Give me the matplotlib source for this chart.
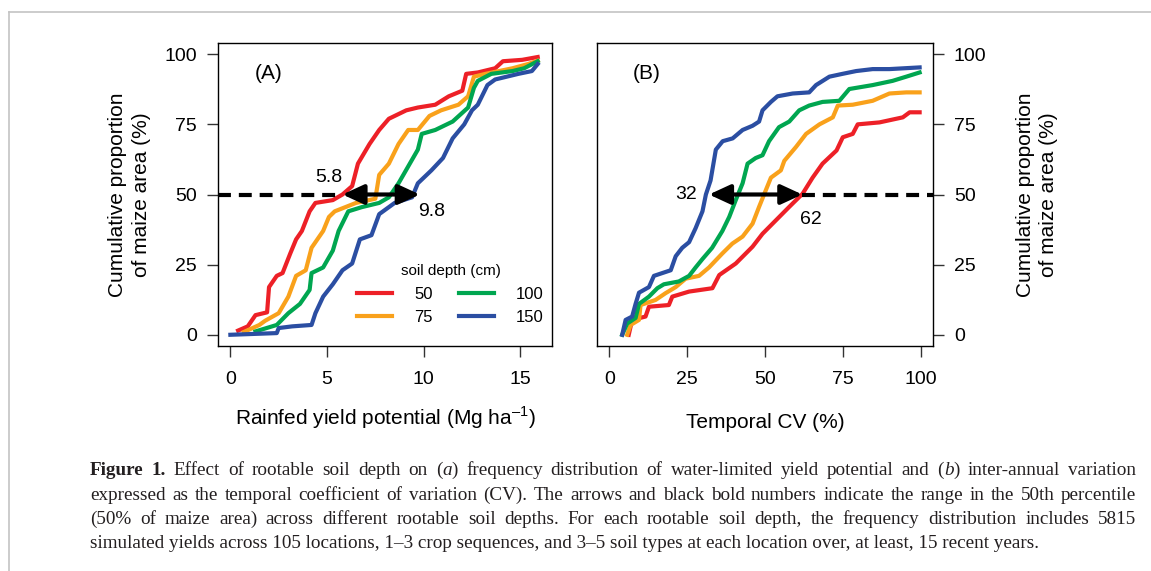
import numpy as np
import matplotlib
matplotlib.use('Agg')
import matplotlib.pyplot as plt
from matplotlib.lines import Line2D

plt.rcParams['font.family'] = ['Liberation Sans', 'DejaVu Sans']
plt.rcParams['mathtext.fontset'] = 'custom'
plt.rcParams['mathtext.rm'] = 'Liberation Sans'

# soil depths and colours
depths = ['50', '75', '100', '150']
colors = ['#ED2027', '#F9A11B', '#00A650', '#2B4EA2']

# (A) cumulative distribution of rainfed yield potential (Mg/ha vs %)
ya_x_50 = [0.4, 0.9, 1.3, 1.9, 2.0, 2.4, 2.7, 3.1, 3.4, 3.7, 4.1, 4.4, 5.3, 5.8, 6.3, 6.6,
           7.2, 7.7, 8.2, 9.1, 9.7, 10.6, 11.3, 12.0, 12.2, 12.8, 13.7, 14.1, 15.1, 15.9]
ya_y_50 = [1.5, 3, 7, 8, 17, 21, 22, 29, 34, 37, 44, 47, 48, 50, 53, 61,
           68, 73, 77, 80, 81, 82, 85, 87, 93, 93.5, 95, 97.5, 98, 99]
ya_x_75 = [0.7, 1.5, 1.8, 2.5, 3.0, 3.4, 3.9, 4.2, 4.8, 5.1, 5.4, 6.5, 7.5, 7.7, 8.2, 8.7,
           9.2, 9.7, 10.3, 10.9, 11.8, 12.3, 12.6, 13.2, 14.6, 15.4, 15.9]
ya_y_75 = [1, 3.5, 5, 7.7, 13.6, 21, 23, 31, 37, 42, 44, 47, 48.5, 57, 61, 68,
           73, 73, 78, 80, 82, 85, 92, 93, 95, 96.5, 97.7]
ya_x_100 = [1.3, 2.4, 3.0, 3.6, 4.1, 4.2, 4.8, 5.3, 5.6, 6.1, 6.8, 7.7, 8.2, 8.7, 9.2, 9.7,
            9.9, 10.6, 11.5, 12.3, 12.6, 12.8, 13.5, 14.6, 15.2, 15.9]
ya_y_100 = [1.2, 3.5, 7.7, 11, 16, 22, 24, 30, 37, 44, 45.5, 47, 49, 54, 60, 66,
            71.6, 73, 76, 81, 88, 90.5, 93, 94, 95, 97.5]
ya_x_150 = [0.0, 2.4, 2.5, 3.2, 4.2, 4.4, 4.8, 5.3, 5.8, 6.3, 6.7, 7.3, 7.7, 8.5, 9.4, 9.7,
            10.4, 11.0, 11.5, 12.1, 12.5, 12.8, 13.3, 13.7, 14.9, 15.6, 15.9]
ya_y_150 = [0, 0.6, 2.4, 3, 3.5, 7.7, 13.6, 18, 23, 25.4, 34, 35.5, 43, 47, 49, 54,
            58.6, 63, 70, 75, 80, 82, 89, 91, 93, 94, 96.5]

# (B) cumulative distribution of temporal CV (% vs %)
cv_x_50 = [6.2, 7.3, 11.6, 12.7, 19.1, 20.2, 25.6, 33.1, 35.3, 40.6, 46.0, 49.2, 53.5, 57.8,
           62.1, 65.3, 68.5, 73.0, 75.0, 78.2, 79.8, 86.8, 94.3, 96.5, 99.7]
cv_y_50 = [0, 5.3, 6.5, 10, 10.6, 13.6, 15.4, 16.6, 21.3, 25.4, 31.4, 36, 40.8, 45.6,
           50.3, 56, 61, 65.7, 70.4, 71.6, 75, 75.7, 77.5, 79.3, 79.3]
cv_x_75 = [5.7, 6.8, 9.5, 10.0, 14.8, 18.0, 21.3, 24.5, 28.8, 32.0, 36.3, 39.5, 42.8, 46.0,
           48.1, 49.7, 51.9, 55.1, 56.2, 60.0, 63.2, 67.5, 71.8, 73.4, 78.2, 84.6, 90.0, 95.4, 99.7]
cv_y_75 = [0, 3.5, 5.3, 10.6, 12.4, 14.8, 17, 20, 21, 24, 29, 32.5, 35, 39.6,
           45.6, 50, 56, 58.6, 62, 67, 71.6, 75, 77.5, 81.7, 82, 83.4, 86, 86.4, 86.4]
cv_x_100 = [4.1, 5.7, 8.4, 9.5, 12.7, 15.4, 17.5, 22.3, 25.6, 27.7, 29.9, 33.0, 36.3, 38.5,
            40.6, 42.8, 44.4, 47.0, 49.2, 51.3, 54.5, 57.8, 61.0, 64.2, 68.5, 73.9, 77.1,
            84.6, 91.0, 95.4, 99.7]
cv_y_100 = [0, 4, 6, 11, 13.6, 16.6, 18, 19, 21, 24, 27, 31, 37, 42,
            48, 54, 61, 63, 64, 69, 74, 76, 80, 81.7, 83, 83.4, 87.6,
            89, 90.5, 92, 93.5]
cv_x_150 = [4.1, 5.2, 7.3, 8.4, 9.5, 12.7, 14.3, 17.0, 19.7, 21.3, 23.4, 25.6, 27.7, 29.9,
            31.0, 32.5, 34.2, 36.4, 39.6, 42.8, 46.0, 48.1, 49.2, 51.9, 54.0, 58.9, 64.2,
            66.4, 70.7, 74.9, 79.3, 84.6, 90.0, 99.7]
cv_y_150 = [0, 5.3, 6.5, 11, 15, 17, 21, 22, 23, 28, 31, 33, 38, 44,
            50, 55, 66, 69, 70, 73, 74.5, 76, 80, 83, 85, 86, 86.4,
            89, 92, 93, 94, 94.7, 94.7, 95.3]

# 50th percentile ranges
yield_range = [5.8, 9.8]
cv_range = [32, 62]

yield_x = [ya_x_50, ya_x_75, ya_x_100, ya_x_150]
yield_y = [ya_y_50, ya_y_75, ya_y_100, ya_y_150]
cv_x = [cv_x_50, cv_x_75, cv_x_100, cv_x_150]
cv_y = [cv_y_50, cv_y_75, cv_y_100, cv_y_150]

W, H = 1151, 571
fig = plt.figure(figsize=(W / 100, H / 100), dpi=100)

def px_rect(x0, y0, x1, y1):
    return [x0 / W, 1 - y1 / H, (x1 - x0) / W, (y1 - y0) / H]

ax1 = fig.add_axes(px_rect(218, 43, 552, 346))
ax2 = fig.add_axes(px_rect(597, 43, 933, 346))

for ax in (ax1, ax2):
    for s in ax.spines.values():
        s.set_linewidth(1.0)
    ax.tick_params(length=8, width=1.0, color='#333333', labelsize=14)
    ax.set_ylim(-4, 104)
    ax.set_yticks([0, 25, 50, 75, 100])

# panel A
for xs, ys, c, d in zip(yield_x, yield_y, colors, depths):
    ax1.plot(xs, ys, color=c, lw=3, label=d, solid_joinstyle='round')
ax1.set_xlim(-0.64, 16.64)
ax1.set_xticks([0, 5, 10, 15])
ax1.tick_params(axis='x', pad=10)
ax1.tick_params(axis='y', pad=7)
ax1.plot([-0.64, yield_range[0]], [50, 50], color='k', lw=3, dashes=(3.1, 1.9))
ax1.annotate('', xy=(yield_range[0], 50), xytext=(yield_range[1], 50),
             arrowprops=dict(arrowstyle='<|-|>,head_length=1.3,head_width=0.6',
                             lw=3, color='k', mutation_scale=10, shrinkA=0, shrinkB=0))
ax1.text(5.1, 56, '5.8', fontsize=14, ha='center', va='center')
ax1.text(10.4, 44, '9.8', fontsize=14, ha='center', va='center')
ax1.text(2.0, 93, '(A)', fontsize=15, ha='center', va='center')
ax1.set_xlabel('Rainfed yield potential (Mg ha$^{\\mathrm{–1}}$)', fontsize=15, labelpad=12)
ax1.set_ylabel('Cumulative proportion\nof maize area (%)', fontsize=15, labelpad=10,
               linespacing=1.3)
leg = ax1.legend(ncol=2, loc='lower right', bbox_to_anchor=(1.02, 0.02), frameon=False,
                 title='soil depth (cm)', fontsize=12, title_fontsize=11,
                 handlelength=2.1, columnspacing=1.6, handletextpad=1.3, labelspacing=0.5)

# panel B
for xs, ys, c, d in zip(cv_x, cv_y, colors, depths):
    ax2.plot(xs, ys, color=c, lw=3, solid_joinstyle='round')
ax2.set_xlim(-4, 104)
ax2.set_xticks([0, 25, 50, 75, 100])
ax2.tick_params(axis='x', pad=10)
ax2.yaxis.tick_right()
ax2.yaxis.set_label_position('right')
ax2.tick_params(axis='y', pad=7)
ax2.plot([cv_range[1], 104], [50, 50], color='k', lw=3, dashes=(3.1, 1.9))
ax2.annotate('', xy=(cv_range[0], 50), xytext=(cv_range[1], 50),
             arrowprops=dict(arrowstyle='<|-|>,head_length=1.3,head_width=0.6',
                             lw=3, color='k', mutation_scale=10, shrinkA=0, shrinkB=0))
ax2.text(24.5, 50, '32', fontsize=14, ha='center', va='center')
ax2.text(64.8, 41, '62', fontsize=14, ha='center', va='center')
ax2.text(12.1, 93, '(B)', fontsize=15, ha='center', va='center')
ax2.set_xlabel('Temporal CV (%)', fontsize=15, labelpad=18)
ax2.set_ylabel('Cumulative proportion\nof maize area (%)', fontsize=15, labelpad=21,
               rotation=90, linespacing=1.3)

# page frame (left and top edges)
fig.add_artist(Line2D([9 / W, 9 / W], [0, 1 - 12 / H], color='#c4c4c4', lw=1.2))
fig.add_artist(Line2D([9 / W, 1], [1 - 12 / H, 1 - 12 / H], color='#c4c4c4', lw=1.2))

# caption, first three lines justified
caption_lines = [
    [[('Figure', 'bold', 'normal')], [('1.', 'bold', 'normal')], 'Effect', 'of', 'rootable',
     'soil', 'depth', 'on', [('(', 'normal', 'normal'), ('a', 'normal', 'italic'), (')', 'normal', 'normal')],
     'frequency', 'distribution', 'of', 'water-limited', 'yield', 'potential', 'and',
     [('(', 'normal', 'normal'), ('b', 'normal', 'italic'), (')', 'normal', 'normal')],
     'inter-annual', 'variation'],
    'expressed as the temporal coefficient of variation (CV). The arrows and black bold numbers '
    'indicate the range in the 50th percentile'.split(),
    '(50% of maize area) across different rootable soil depths. For each rootable soil depth, '
    'the frequency distribution includes 5815'.split(),
]
caption_last = ('simulated yields across 105 locations, 1–3 crop sequences, and 3–5 soil types '
                'at each location over, at least, 15 recent years.')
baselines = [475, 499.5, 524, 548.5]
cap_left, cap_right = 90, 1136
cap_kw = dict(family='Liberation Serif', fontsize=13.8, color='#231f20', va='baseline')

renderer = fig.canvas.get_renderer()

def make_runs(word):
    if isinstance(word, str):
        return [(word, 'normal', 'normal')]
    return word

def run_width(s, weight, style):
    t = fig.text(0, 0, s, fontweight=weight, fontstyle=style, **cap_kw)
    w = t.get_window_extent(renderer).width
    t.remove()
    return w

for line, base in zip(caption_lines, baselines):
    words = [make_runs(w) for w in line]
    widths = [[run_width(*r) for r in w] for w in words]
    total = sum(sum(w) for w in widths)
    gap = (cap_right - cap_left - total) / (len(words) - 1)
    x = cap_left
    for runs, ws in zip(words, widths):
        for (s, weight, style), w in zip(runs, ws):
            fig.text(x / W, 1 - base / H, s, fontweight=weight, fontstyle=style, **cap_kw)
            x += w
        x += gap
fig.text(cap_left / W, 1 - baselines[3] / H, caption_last, **cap_kw)

fig.savefig('out.png', dpi=100)
